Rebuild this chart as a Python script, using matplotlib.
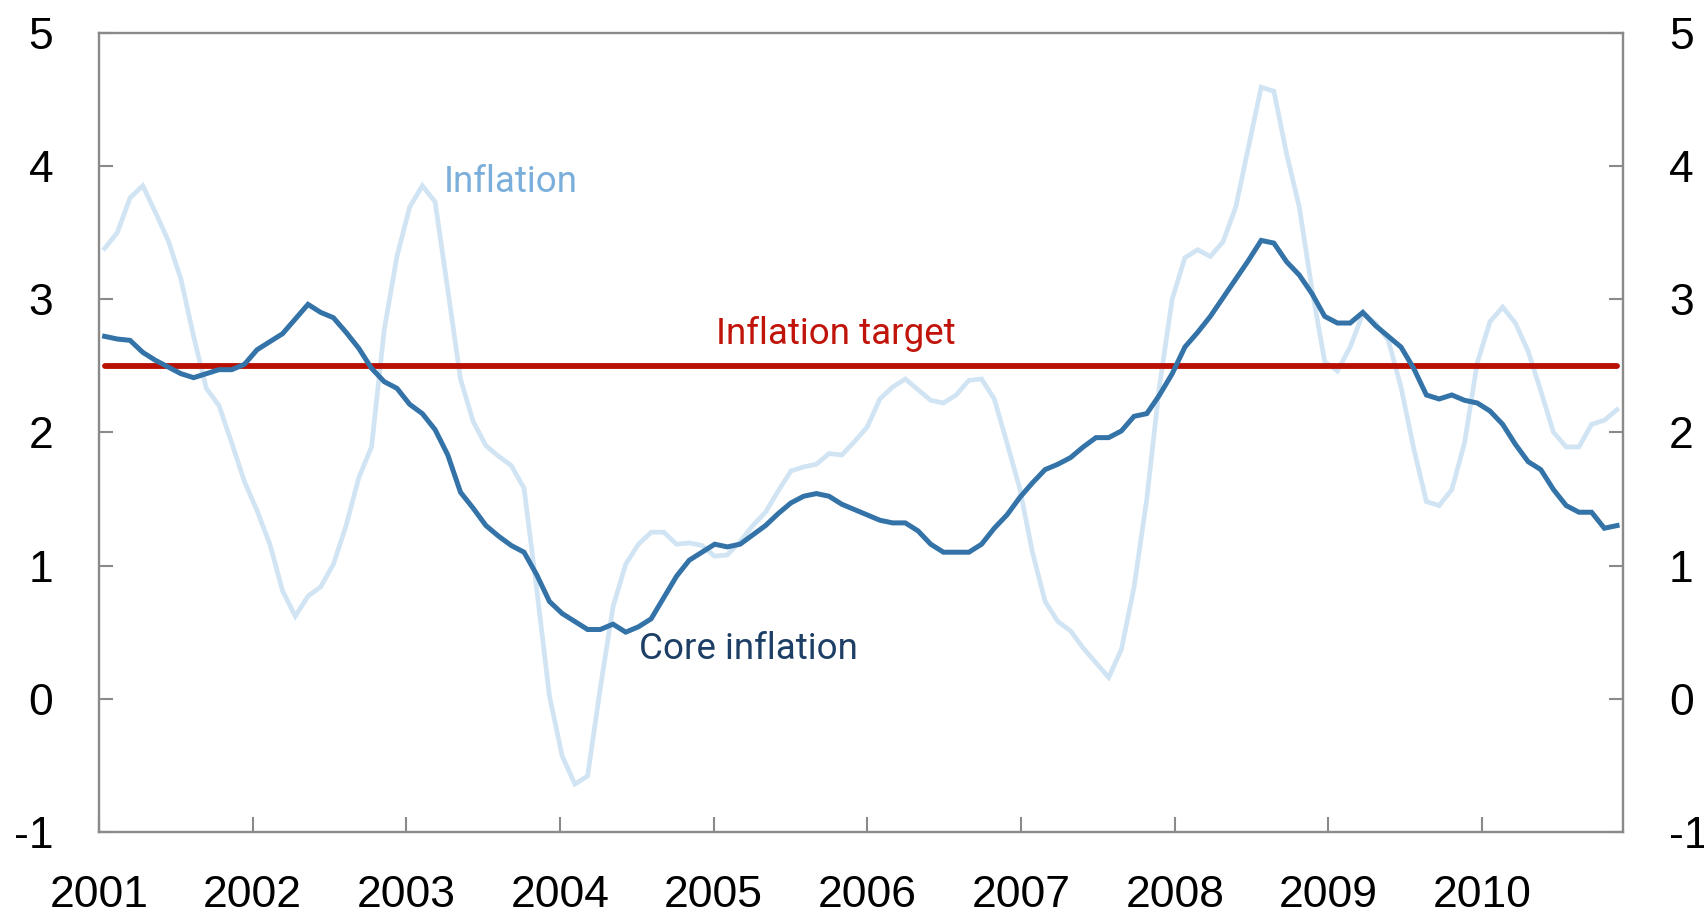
import numpy as np
import matplotlib
matplotlib.use("Agg")
import matplotlib.pyplot as plt

# monthly observations, Jan 2001 - Dec 2010 (percent, 12-month change)
inflation = [3.38, 3.50, 3.76, 3.85, 3.65, 3.44, 3.15, 2.72, 2.33, 2.20,
             1.92, 1.63, 1.41, 1.16, 0.81, 0.62, 0.77, 0.84, 1.01, 1.30,
             1.66, 1.89, 2.77, 3.32, 3.69, 3.85, 3.73, 3.07, 2.40, 2.08,
             1.90, 1.82, 1.75, 1.58, 0.82, 0.02, -0.43, -0.64, -0.58, 0.08,
             0.69, 1.01, 1.16, 1.25, 1.25, 1.16, 1.17, 1.15, 1.07, 1.08,
             1.18, 1.30, 1.40, 1.56, 1.71, 1.74, 1.76, 1.84, 1.83, 1.93,
             2.04, 2.25, 2.34, 2.40, 2.32, 2.24, 2.22, 2.28, 2.39, 2.40,
             2.25, 1.92, 1.58, 1.10, 0.73, 0.58, 0.51, 0.38, 0.27, 0.16,
             0.37, 0.84, 1.50, 2.35, 3.00, 3.31, 3.37, 3.32, 3.43, 3.69,
             4.14, 4.59, 4.56, 4.09, 3.69, 3.07, 2.53, 2.46, 2.64, 2.89,
             2.82, 2.69, 2.34, 1.88, 1.48, 1.45, 1.57, 1.92, 2.52, 2.83,
             2.94, 2.82, 2.61, 2.31, 2.00, 1.89, 1.89, 2.06, 2.09, 2.17]

core_inflation = [2.72, 2.70, 2.69, 2.60, 2.54, 2.49, 2.44, 2.41, 2.44, 2.47,
                  2.47, 2.51, 2.62, 2.68, 2.74, 2.85, 2.96, 2.90, 2.86, 2.75,
                  2.63, 2.48, 2.38, 2.33, 2.21, 2.14, 2.02, 1.83, 1.55, 1.43,
                  1.30, 1.22, 1.15, 1.10, 0.93, 0.73, 0.64, 0.58, 0.52, 0.52,
                  0.56, 0.50, 0.54, 0.60, 0.76, 0.92, 1.04, 1.10, 1.16, 1.14,
                  1.16, 1.23, 1.30, 1.39, 1.47, 1.52, 1.54, 1.52, 1.46, 1.42,
                  1.38, 1.34, 1.32, 1.32, 1.26, 1.16, 1.10, 1.10, 1.10, 1.16,
                  1.28, 1.38, 1.51, 1.62, 1.72, 1.76, 1.81, 1.89, 1.96, 1.96,
                  2.01, 2.12, 2.14, 2.28, 2.44, 2.64, 2.75, 2.87, 3.01, 3.15,
                  3.29, 3.44, 3.42, 3.28, 3.18, 3.04, 2.87, 2.82, 2.82, 2.90,
                  2.80, 2.72, 2.64, 2.48, 2.28, 2.25, 2.28, 2.24, 2.22, 2.16,
                  2.06, 1.91, 1.78, 1.72, 1.57, 1.45, 1.40, 1.40, 1.28, 1.30]

inflation_target = 2.5
years = list(range(2001, 2011))
y_ticks = [-1, 0, 1, 2, 3, 4, 5]

# x axis in months from Jan 2001
x = np.linspace(0.44, 118.53, len(inflation))

grey = "#8a8a8a"
plt.rcParams["font.family"] = ["Liberation Sans", "DejaVu Sans"]

fig = plt.figure(figsize=(17.04, 9.15), dpi=100)
ax = fig.add_axes([0.0581, 0.0907, 0.8944, 0.8737])

ax.plot(x, inflation, color="#d1e4f3", lw=3.4, solid_joinstyle="miter")
ax.plot([x[0], x[-1]], [inflation_target, inflation_target],
        color="#b80f00", lw=4.2, solid_capstyle="round")
ax.plot(x, core_inflation, color="#3473a8", lw=3.6, solid_joinstyle="miter")

lab_font = ["Roboto", "DejaVu Sans"]
ax.text(26.9, 3.80, "Inflation", color="#7aaedb", fontsize=26.5,
        family=lab_font, va="baseline", ha="left")
ax.text(48.2, 2.665, "Inflation target", color="#c0140a", fontsize=26.5,
        family=lab_font, va="baseline", ha="left")
ax.text(42.2, 0.30, "Core inflation", color="#1d3f66", fontsize=26.5,
        family=lab_font, va="baseline", ha="left")

ax.set_xlim(0, 119)
ax.set_ylim(-1, 5)
ax.set_xticks([12 * (y - 2001) for y in years])
ax.set_xticklabels([str(y) for y in years])
ax.set_yticks(y_ticks)
ax.set_yticklabels([str(v) for v in y_ticks])

for s in ax.spines.values():
    s.set_color(grey)
    s.set_linewidth(1.7)

ax.tick_params(axis="y", direction="in", length=10, width=1.5, color=grey,
               labelsize=32, pad=33, right=True, labelright=True)
ax.tick_params(axis="x", direction="in", length=11, width=1.5, color=grey,
               labelsize=32, pad=31)

fig.savefig("out.png", dpi=100)
